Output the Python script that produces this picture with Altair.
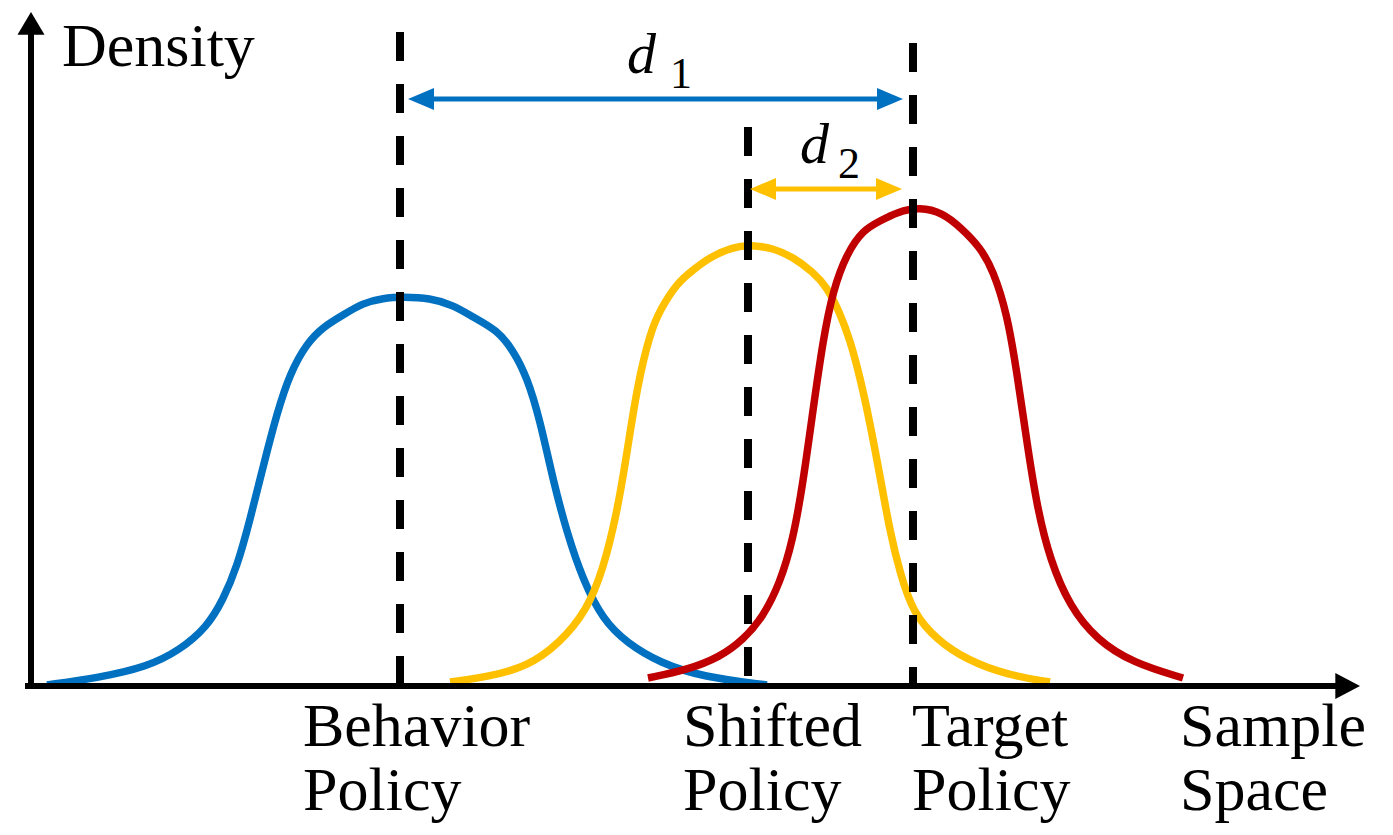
import altair as alt
import pandas as pd

# ---- curves (sample-space position, density) ----
blue_x = [47, 97, 147, 180, 207, 223, 237, 250, 263, 277, 290, 307, 323, 343, 363, 383, 403, 430, 453, 473, 497, 513, 527, 540, 553, 567, 583, 603, 627, 660, 703, 767]
blue_d = [1, 8, 19, 36, 59, 86, 119, 166, 219, 273, 313, 343, 359, 371, 383, 388, 389, 388, 381, 369, 356, 336, 309, 266, 206, 153, 106, 66, 43, 23, 9, 1]

yellow_x = [450, 487, 527, 560, 587, 603, 617, 627, 637, 650, 660, 677, 693, 710, 733, 750, 773, 793, 813, 827, 840, 850, 860, 870, 880, 890, 900, 913, 937, 967, 1007, 1050]
yellow_d = [4, 9, 19, 43, 76, 116, 173, 233, 299, 353, 376, 403, 416, 429, 439, 441, 438, 429, 414, 399, 373, 346, 309, 263, 210, 154, 113, 73, 46, 26, 11, 4]

red_x = [648, 687, 720, 743, 763, 780, 793, 803, 813, 823, 833, 847, 863, 880, 897, 920, 943, 960, 980, 993, 1007, 1017, 1027, 1037, 1050, 1070, 1097, 1133, 1183]
red_d = [8, 16, 29, 46, 69, 103, 146, 203, 276, 346, 396, 433, 456, 465, 474, 479, 473, 459, 439, 416, 373, 313, 243, 179, 126, 79, 46, 23, 8]

series_names = ["Behavior", "Shifted", "Target"]
series_colors = ["#0070C0", "#FFC000", "#C00000"]

# ---- dashed markers (policy means) ----
mark_x = [400, 748, 913]
mark_top = [654, 559, 643]

# ---- distance arrows ----
arrow_names = ["d1", "d2"]
arrow_from = [408, 750]
arrow_to = [903, 902]
arrow_level = [587, 497]
arrow_colors = ["#0070C0", "#FFC000"]

# ---- labels ----
label_text = ["Behavior", "Policy", "Shifted", "Policy", "Target", "Policy", "Sample", "Space"]
label_x = [303, 303, 683, 683, 912, 912, 1180, 1180]
label_y = [-60, -124, -60, -124, -60, -124, -60, -124]

# ---- build tables ----
curves = pd.concat([
    pd.DataFrame({"x": xs, "d": ds, "series": name, "i": range(len(xs))})
    for xs, ds, name in zip([blue_x, yellow_x, red_x], [blue_d, yellow_d, red_d], series_names)
])
marks = pd.DataFrame({"x": mark_x, "top": mark_top, "bottom": [0] * len(mark_x)})
arrows = pd.DataFrame({"name": arrow_names, "x1": arrow_from, "x2": arrow_to,
                       "y": arrow_level, "color": arrow_colors})
labels = pd.DataFrame({"text": label_text, "x": label_x, "y": label_y})

X = alt.Scale(domain=[8, 1385], nice=False, zero=False)
Y = alt.Scale(domain=[-141, 678], nice=False, zero=False)

def xe(f, **kw):
    return alt.X(f, type="quantitative", scale=X, axis=None, **kw)

def ye(f, **kw):
    return alt.Y(f, type="quantitative", scale=Y, axis=None, **kw)

col = alt.Color("series:N", scale=alt.Scale(domain=series_names, range=series_colors), legend=None)

curve_layer = alt.Chart(curves).mark_line(strokeWidth=7.5, interpolate="basis").encode(
    x=xe("x"), y=ye("d"), color=col, detail="series:N", order="i:Q")

dash_layer = alt.Chart(marks).mark_rule(color="black", strokeWidth=8, strokeDash=[29, 23]).encode(
    x=xe("x"), y=ye("top"), y2="bottom:Q")

# axes drawn as arrows
axis_df = pd.DataFrame({"x0": [31, 25], "x1": [31, 1340], "y0": [-3, 0], "y1": [656, 0]})
axis_layer = alt.Chart(axis_df).mark_rule(color="black", strokeWidth=6).encode(
    x=xe("x0"), x2="x1:Q", y=ye("y0"), y2="y1:Q")
head_up = alt.Chart(pd.DataFrame({"x": [31], "y": [674]})).mark_point(
    shape="M 0 0 L -1.04 1.75 L 1.04 1.75 Z", filled=True, color="black", opacity=1, size=676, strokeWidth=0
).encode(x=xe("x"), y=ye("y"))
head_right = alt.Chart(pd.DataFrame({"x": [1360], "y": [0]})).mark_point(
    shape="M 0 0 L -1.9 -1 L -1.9 1 Z", filled=True, color="black", opacity=1, size=676, strokeWidth=0
).encode(x=xe("x"), y=ye("y"))

acol = alt.Color("color:N", scale=None)
shaft = alt.Chart(arrows).transform_calculate(a="datum.x1 + 10", b="datum.x2 - 10").mark_rule(strokeWidth=5).encode(
    x=xe("a:Q"), x2="b:Q", y=ye("y"), color=acol)
head_r = alt.Chart(arrows).mark_point(shape="M 0 0 L -2 -0.85 L -2 0.85 Z", filled=True, opacity=1,
                                      size=676, strokeWidth=0).encode(x=xe("x2"), y=ye("y"), color=acol)
head_l = alt.Chart(arrows).mark_point(shape="M 0 0 L 2 -0.85 L 2 0.85 Z", filled=True, opacity=1,
                                      size=676, strokeWidth=0).encode(x=xe("x1"), y=ye("y"), color=acol)

serif = "Liberation Serif"
label_layer = alt.Chart(labels).mark_text(font=serif, fontSize=62, align="left", baseline="alphabetic",
                                          color="black").encode(x=xe("x"), y=ye("y"), text="text:N")
density_layer = alt.Chart(pd.DataFrame({"t": ["Density"], "x": [62], "y": [620]})).mark_text(
    font=serif, fontSize=62, align="left", baseline="alphabetic", color="black").encode(
    x=xe("x"), y=ye("y"), text="t:N")

dvar = pd.DataFrame({"t": ["d", "d"], "x": [627, 800], "y": [613, 523]})
dsub = pd.DataFrame({"t": ["1", "2"], "x": [670, 838], "y": [598, 508]})
dvar_layer = alt.Chart(dvar).mark_text(font=serif, fontSize=58, fontStyle="italic", align="left",
                                       baseline="alphabetic", color="black").encode(
    x=xe("x"), y=ye("y"), text="t:N")
dsub_layer = alt.Chart(dsub).mark_text(font=serif, fontSize=44, align="left",
                                       baseline="alphabetic", color="black").encode(
    x=xe("x"), y=ye("y"), text="t:N")

chart = alt.layer(
    curve_layer, dash_layer, axis_layer, head_up, head_right,
    shaft, head_r, head_l, label_layer, density_layer, dvar_layer, dsub_layer
).properties(
    width=1377, height=819, padding=0, autosize=alt.AutoSizeParams(type="none")
).configure_view(stroke=None)

chart.save("out.html", embed_options={"renderer": "svg", "actions": False})
